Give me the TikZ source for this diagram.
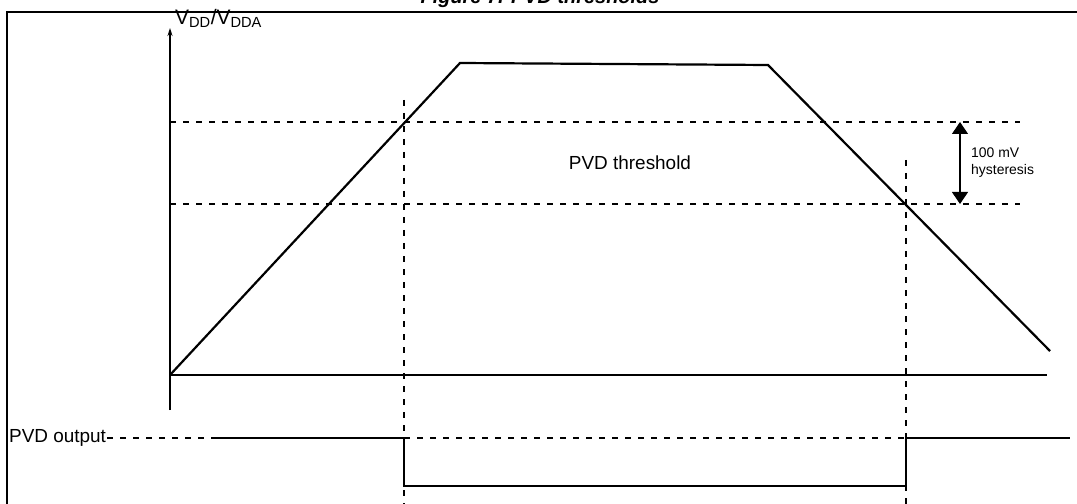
\documentclass[tikz,border=0pt]{standalone}
\usepackage{fontspec}
\setmainfont{Liberation Sans}
\usetikzlibrary{arrows.meta,positioning}

\begin{document}
\begin{tikzpicture}[
			x=1bp,y=-1bp,
			dashline/.style={dash pattern=on 6bp off 7bp,line width=1.3bp},
			sigline/.style={line width=2.6bp},
			every node/.style={inner sep=1pt}
			]
			\useasboundingbox (0,0) rectangle (1077,504);
			\begin{scope}
			\clip (0,0) rectangle (1077,504);
			\node[font=\fontsize{20}{22}\selectfont\bfseries\itshape] (title) at (540,-2) {Figure 7. PVD thresholds};
			\end{scope}

			% frame
			\draw[line width=1.6bp] (7,504) -- (7,12) -- (1077,12);

			% axes
			\coordinate (o) at (170,375);
			\draw[line width=1.2bp,-{Stealth[length=8bp,width=5bp]}] (170,410) -- (170,28) coordinate (ytop);
			\node[anchor=west,font=\fontsize{21}{24}\selectfont] (ylab) at (174,18) {V\textsubscript{DD}/V\textsubscript{DDA}};
			\draw[line width=1.2bp] (o) -- (1047,375);

			% supply curve
			\coordinate (a) at (460,63);
			\coordinate (b) at (768,65);
			\coordinate (c) at (1050,351);
			\draw[line width=2.2bp] (o) -- (a) -- (b) -- (c);

			% thresholds
			\draw[dashline] (170,122) -- (1020,122);
			\draw[dashline] (170,204) -- (1020,204);
			\draw[dashline] (404,100) -- (404,504);
			\draw[dashline] (906,160) -- (906,504);
			\node[font=\fontsize{19}{22}\selectfont] (thr) at (630,163) {PVD threshold};

			% hysteresis
			\draw[{Triangle[length=12bp,width=16bp]}-{Triangle[length=12bp,width=16bp]},line width=1.2bp] (960,122) -- (960,204);
			\node[anchor=west,align=left,font=\fontsize{14}{17}\selectfont] (hys) at (970,163) {100 mV\\hysteresis};

			% output
			\node[anchor=west,font=\fontsize{19}{22}\selectfont] (out) at (8,438) {PVD output};
			\draw[dashline] (out.east) -- (213,438);
			\draw[dashline] (404,438) -- (906,438);
			\draw[dashline] (906,438) -- (1020,438);
			\draw[sigline] (213,438) -- (404,438) -- (404,486) -- (906,486) -- (906,438) -- (1070,438);
		\end{tikzpicture}
\end{document}
